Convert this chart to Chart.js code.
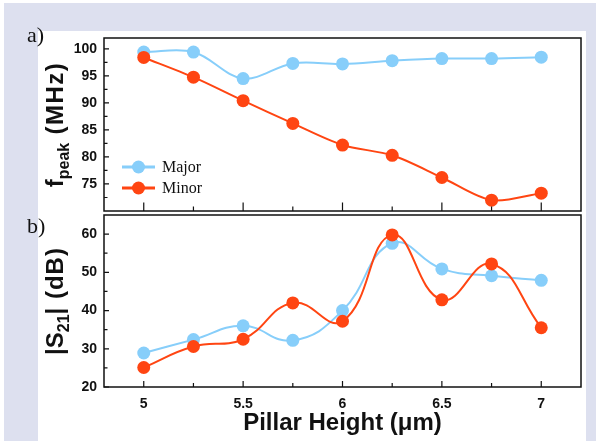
<!DOCTYPE html>
<html>
<head>
<meta charset="utf-8">
<script src="https://cdn.jsdelivr.net/npm/chart.js@4.4.1/dist/chart.umd.min.js"></script>
<style>
  html, body { margin: 0; padding: 0; background: #fff; }
  #page { position: relative; width: 596px; height: 441px; overflow: hidden; }
  #lav { position: absolute; left: 4px; top: 3px; right: 0; bottom: 0; background: #dde0ef; }
  #inner { position: absolute; left: 38px; top: 31px; width: 548px; bottom: 0; background: #fff; }
  canvas { position: absolute; left: 0; top: 0; }
</style>
</head>
<body>
<div id="page">
  <div id="lav"></div>
  <div id="inner"></div>
  <canvas id="chartA" width="596" height="441"></canvas>
  <canvas id="chartB" width="596" height="441"></canvas>
</div>
<script>
// datos
const heights = [5, 5.25, 5.5, 5.75, 6, 6.25, 6.5, 6.75, 7];
const fpeakMajor = [99.4, 99.4, 94.5, 97.3, 97.2, 97.8, 98.2, 98.2, 98.45];
const fpeakMinor = [98.4, 94.75, 90.4, 86.2, 82.2, 80.3, 76.2, 72.0, 73.3];
const s21Major = [28.9, 32.4, 36.0, 32.2, 40.0, 57.6, 50.9, 49.1, 47.9];
const s21Minor = [25.1, 30.6, 32.5, 42.0, 37.2, 59.8, 42.8, 52.2, 35.5];

const xTicks = [5, 5.5, 6, 6.5, 7];
const xMinorTicks = [5.25, 5.75, 6.25, 6.75];
const fTicks = [75, 80, 85, 90, 95, 100];
const fMinorTicks = [72.5, 77.5, 82.5, 87.5, 92.5, 97.5];
const sTicks = [20, 30, 40, 50, 60];
const sMinorTicks = [25, 35, 45, 55];

const seriesNames = ["Major", "Minor"];
const colMajor = "#87cefa";
const colMinor = "#ff4512";

const sans = "'Liberation Sans', Arial, sans-serif";
const serif = "'Liberation Serif', 'Times New Roman', serif";

function pts(ys) {
  return heights.map((h, i) => ({ x: h, y: ys[i] }));
}

function serie(label, ys, color, tension, order) {
  return {
    label,
    data: pts(ys),
    borderColor: color,
    backgroundColor: color,
    borderWidth: 2,
    pointRadius: 6.5,
    pointBorderWidth: 0,
    pointBackgroundColor: color,
    tension,
    order
  };
}

// marco y ticks hacia adentro
function marco(ticksCfg) {
  return {
    id: "marco",
    afterDatasetsDraw(chart) {
      const ctx = chart.ctx;
      const a = chart.chartArea;
      const xs = chart.scales.x, ys = chart.scales.y;
      ctx.save();
      ctx.strokeStyle = "#111";
      ctx.lineWidth = 1.5;
      ctx.strokeRect(a.left, a.top, a.right - a.left, a.bottom - a.top);
      ctx.lineWidth = 1.2;
      ctx.beginPath();
      ticksCfg.yMajor.forEach(v => {
        let p = ys.getPixelForValue(v);
        ctx.moveTo(a.left, p); ctx.lineTo(a.left + 5, p);
      });
      ticksCfg.yMinor.forEach(v => {
        let p = ys.getPixelForValue(v);
        ctx.moveTo(a.left, p); ctx.lineTo(a.left + 3.5, p);
      });
      xTicks.forEach(v => {
        let p = xs.getPixelForValue(v);
        ctx.moveTo(p, a.bottom); ctx.lineTo(p, a.bottom - ticksCfg.xLen);
      });
      xMinorTicks.forEach(v => {
        let p = xs.getPixelForValue(v);
        ctx.moveTo(p, a.bottom); ctx.lineTo(p, a.bottom - ticksCfg.xMinLen);
      });
      ctx.stroke();
      ctx.restore();
    }
  };
}

// titulo del eje y con subindice
function tituloY(partes, panelLabel, labelY) {
  return {
    id: "tituloY",
    afterDraw(chart) {
      const ctx = chart.ctx;
      const a = chart.chartArea;
      const cy = (a.top + a.bottom) / 2;
      ctx.save();
      ctx.fillStyle = "#111";
      // medir
      let total = 0;
      partes.forEach(p => {
        ctx.font = "bold " + p.size + "px " + sans;
        p.w = ctx.measureText(p.t).width + (p.sp || 0) * p.t.length;
        total += p.w;
      });
      ctx.translate(63, cy);
      ctx.rotate(-Math.PI / 2);
      let x = -total / 2;
      partes.forEach(p => {
        ctx.font = "bold " + p.size + "px " + sans;
        ctx.textBaseline = "alphabetic";
        ctx.textAlign = "left";
        if (p.sp) {
          for (const ch of p.t) {
            ctx.fillText(ch, x, p.dy || 0);
            x += ctx.measureText(ch).width + p.sp;
          }
        } else {
          ctx.fillText(p.t, x, p.dy || 0);
          x += p.w;
        }
      });
      ctx.restore();

      ctx.save();
      ctx.fillStyle = "#111";
      ctx.font = "22px " + serif;
      ctx.textBaseline = "alphabetic";
      ctx.fillText(panelLabel, 27, labelY);
      ctx.restore();
    }
  };
}

const leyenda = {
  id: "leyenda",
  afterDraw(chart) {
    const ctx = chart.ctx;
    const a = chart.chartArea;
    const cols = [colMajor, colMinor];
    ctx.save();
    seriesNames.forEach((name, i) => {
      const y = a.top + 129 + i * 21;
      const x0 = a.left + 18;
      ctx.strokeStyle = cols[i];
      ctx.lineWidth = 3;
      ctx.beginPath();
      ctx.moveTo(x0, y); ctx.lineTo(x0 + 33, y);
      ctx.stroke();
      ctx.fillStyle = cols[i];
      ctx.beginPath();
      ctx.arc(x0 + 16.5, y, 6.5, 0, Math.PI * 2);
      ctx.fill();
      ctx.fillStyle = "#111";
      ctx.font = "16px " + serif;
      ctx.textBaseline = "middle";
      ctx.fillText(name, x0 + 40, y + 1);
    });
    ctx.restore();
  }
};

const tickFont = { family: sans, weight: "bold", size: 14 };

function ejeY(min, max, ticks) {
  return {
    min, max,
    afterBuildTicks: s => { s.ticks = ticks.map(v => ({ value: v })); },
    afterFit: s => { s.width = 104; },
    grid: { display: false, drawTicks: false },
    border: { display: false },
    ticks: { padding: 7, color: "#111", font: tickFont }
  };
}

// PANEL A
new Chart(document.getElementById("chartA"), {
  type: "line",
  data: {
    datasets: [
      serie(seriesNames[0], fpeakMajor, colMajor, 0.35, 2),
      serie(seriesNames[1], fpeakMinor, colMinor, 0.3, 1)
    ]
  },
  options: {
    responsive: false,
    animation: false,
    events: [],
    layout: { padding: { left: 0, top: 38, right: 15, bottom: 230 } },
    plugins: { legend: { display: false }, tooltip: { enabled: false } },
    scales: {
      x: { type: "linear", min: 4.8, max: 7.2, display: false },
      y: ejeY(70, 102, fTicks)
    }
  },
  plugins: [
    marco({ yMajor: fTicks, yMinor: fMinorTicks, xLen: 8.5, xMinLen: 4.5 }),
    tituloY([
      { t: "f", size: 24 },
      { t: "peak", size: 16, dy: 6 },
      { t: " (MHz)", size: 24, sp: 1.5 }
    ], "a)", 42),
    leyenda
  ]
});

// PANEL B
new Chart(document.getElementById("chartB"), {
  type: "line",
  data: {
    datasets: [
      serie(seriesNames[0], s21Major, colMajor, 0.45, 2),
      serie(seriesNames[1], s21Minor, colMinor, 0.45, 1)
    ]
  },
  options: {
    responsive: false,
    animation: false,
    events: [],
    layout: { padding: { left: 0, top: 215, right: 15, bottom: 0 } },
    plugins: { legend: { display: false }, tooltip: { enabled: false } },
    scales: {
      x: {
        type: "linear", min: 4.8, max: 7.2,
        afterBuildTicks: s => { s.ticks = xTicks.map(v => ({ value: v })); },
        afterFit: s => { s.height = 54; },
        grid: { display: false, drawTicks: false },
        border: { display: false },
        ticks: { padding: 9, color: "#111", font: tickFont, callback: v => String(v) },
        title: {
          display: true,
          text: "Pillar Height (μm)",
          color: "#111",
          font: { family: sans, weight: "bold", size: 24 },
          padding: { top: 0, bottom: 3 }
        }
      },
      y: ejeY(20, 65, sTicks)
    }
  },
  plugins: [
    marco({ yMajor: sTicks, yMinor: sMinorTicks, xLen: 6, xMinLen: 4 }),
    tituloY([
      { t: "|S", size: 24 },
      { t: "21", size: 16, dy: 6 },
      { t: "| (dB)", size: 24, sp: 1 }
    ], "b)", 233)
  ]
});
</script>
</body>
</html>
